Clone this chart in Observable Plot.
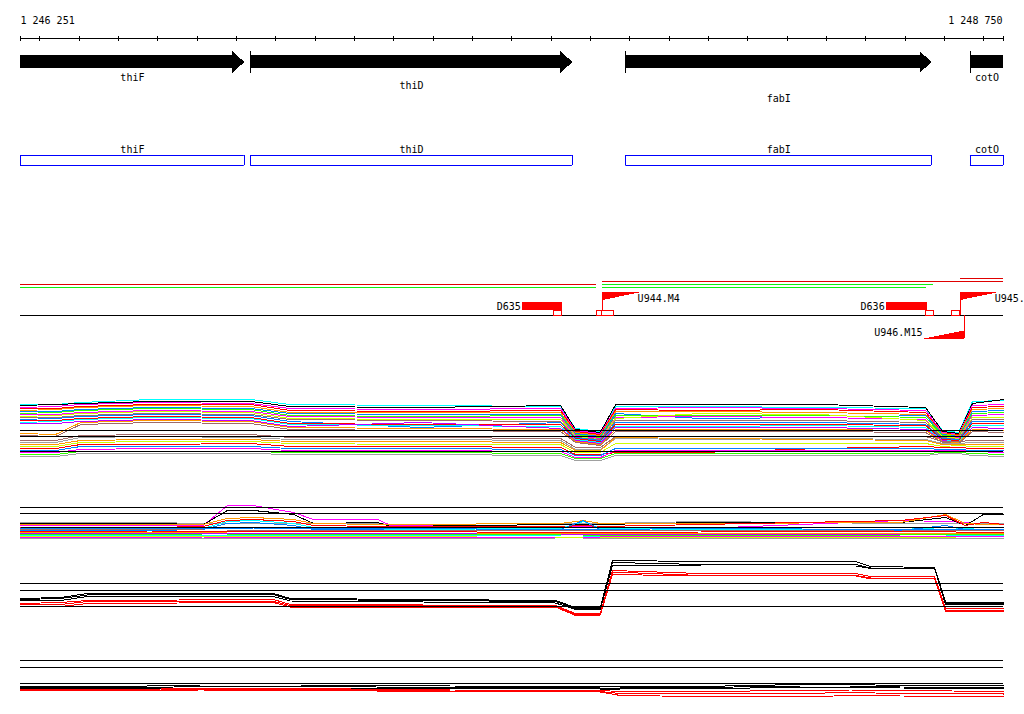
<!DOCTYPE html>
<html><head><meta charset="utf-8">
<script src="https://cdn.jsdelivr.net/npm/d3@7"></script>
<script src="https://cdn.jsdelivr.net/npm/@observablehq/plot@0.6"></script>
<style>
html,body{margin:0;padding:0;background:#fff;}
#chart{position:relative;width:1024px;height:714px;overflow:hidden;background:#fff;}
#chart svg{position:absolute;left:0;}
</style></head><body><div id="chart"></div>
<script>
// ---------------- DATA ----------------
const RANGE = [1246251, 1248750];
const rulerTicks = [1246251,1246300,1246400,1246500,1246600,1246700,1246800,1246900,1247000,1247100,1247200,1247300,1247400,1247500,1247600,1247700,1247800,1247900,1248000,1248100,1248200,1248300,1248400,1248500,1248600,1248700,1248750];
const rulerLabels = ["1 246 251", "1 248 750"];

const geneNames  = ["thiF", "thiD", "fabI", "cotO"];
const geneStarts = [1246150, 1246836, 1247790, 1248666];
const geneEnds   = [1246820, 1247654, 1248567, 1248990];

// transcript segments (track of red / green lines)
const segStarts = [1246100, 1246100, 1247730, 1247730, 1247730, 1248640];
const segEnds   = [1247716, 1247716, 1248900, 1248572, 1248554, 1248900];
const segKinds  = ["red", "green", "red", "green", "green", "red"];
const segLanes  = [1, 0, 2, 1, 0, 3];

// breakpoint features
const featNames  = ["D635", "U944.M4", "D636", "U945.", "U946.M15"];
const featKinds  = ["D", "U", "D", "U", "U"];
const featStrand = ["+", "+", "+", "+", "-"];
const featPos    = [1247628, 1247730, 1248556, 1248640, 1248650];
const featExtent = [1247528, 1247830, 1248453, 1248738, 1248549];
const boxStarts  = [1247607, 1247716, 1247730, 1248554, 1248619];
const boxEnds    = [1247628, 1247730, 1247759, 1248574, 1248640];

// profile track D (many probes)
const anchorsD = [1246251,1246340,1246404,1246582,1246836,1246937,1247268,1247624,1247662,1247725,1247764,1247980,1248285,1248552,1248595,1248636,1248671,1248750];
const seriesD = [
  [66,66,68,71,71,66,65,64,42,39,64,64,63,62,40,38,69,70],
  [65,66,67,69,69,64,63,65,41,38,66,66,66,63,39,37,67,71],
  [63,64,66,68,67,62,61,62,40,37,62,63,62,60,38,36,65,66],
  [62,62,64,66,66,60,59,60,39,36,61,60,61,58,37,36,63,64],
  [60,61,63,65,64,58,58,58,38,35,59,59,58,56,37,35,61,62],
  [59,59,61,63,62,57,56,56,37,34,57,52,53,55,36,34,59,60],
  [57,58,60,62,61,55,54,55,36,33,55,55,55,53,35,34,57,58],
  [56,56,58,60,59,54,53,53,35,32,53,54,53,51,34,33,55,56],
  [54,55,57,59,58,52,51,51,34,31,52,57,56,50,34,32,53,53],
  [53,53,55,57,56,51,50,49,33,31,50,50,50,48,33,31,51,51],
  [51,52,54,56,55,49,43,48,33,30,48,48,48,46,32,31,49,49],
  [50,50,52,54,53,47,46,46,32,29,46,46,46,45,31,30,47,47],
  [48,49,51,53,52,46,45,44,31,28,44,44,45,43,30,29,45,45],
  [47,47,49,51,50,44,48,42,30,27,43,43,43,41,30,28,43,42],
  [37,36,48,50,49,43,42,41,29,26,41,41,41,40,29,28,41,40],
  [35,34,46,48,47,41,40,39,28,25,39,39,39,38,28,27,39,38],
  [30,30,35,36,36,33,33,32,23,23,34,34,34,34,29,29,30,30],
  [28,28,33,34,33,31,31,30,21,21,32,31,32,31,27,27,28,28],
  [26,26,30,31,31,29,29,28,20,20,33,32,31,30,26,26,26,26],
  [24,24,28,29,29,27,26,26,18,18,27,27,27,27,24,25,24,24],
  [22,22,26,26,27,24,24,23,16,16,18,18,22,24,23,23,22,22],
  [20,20,24,24,24,22,22,21,15,15,22,22,22,22,21,21,20,20],
  [18,18,21,22,22,20,20,19,13,13,20,20,20,20,20,20,19,18],
  [16,16,19,19,19,18,18,17,12,12,17,17,17,17,18,18,17,16],
  [14,14,17,17,17,16,16,15,10,10,15,15,15,15,17,17,15,14]
];
const colorsD = ["#00ffff","#000000","#ff00ff","#ff0000","#ff9900","#0080ff","#33ff00","#ff00ff","#ccff00","#a06a6a","#0080ff","#ff0000","#00ffff","#c000ff","#ff9900","#a06a6a",
                 "#a06a6a","#a0a0a0","#ff9900","#ccff00","#ff0000","#0080ff","#ff00ff","#33ff00","#a0a0a0"];
const thresholdsD = [40, 34, 19];

// profile track E
const anchorsE = [1246251,1246582,1246716,1246777,1246843,1246945,1246996,1247159,1247192,1247624,1247682,1247725,1247980,1248488,1248603,1248653,1248699,1248750];
const seriesE = [
  [23,23,22,22,22,22,22,22,21,22,22,22,24,22,22,22,22,22],
  [20,20,20,40,40,33,26,26,20,19,19,19,17,25,24,23,21,21],
  [22,22,21,35,35,31,22,23,19,21,21,21,23,23,28,20,31,31],
  [21,21,21,27,28,26,22,21,21,22,25,22,22,23,31,22,21,21],
  [18,18,19,25,26,24,20,19,19,19,20,19,21,25,30,20,23,21],
  [16,16,17,24,25,22,18,17,16,17,24,17,16,16,18,17,16,16],
  [15,15,16,22,23,20,16,16,15,16,25,16,15,15,20,16,15,15],
  [18.5,18.5,18.5,18.5,18.5,18,18,18,18,18,18,18,18,18,18,18,18,18],
  [17,17,17,17,17.5,17,17,17,17,16,16,16,17,16,16,16,16,16],
  [16,16,15.5,15.5,15.5,15,15,15,15,15,15,15,15,15.5,15,15,15,15],
  [14,14.5,14,14,14,13.5,14,14,14,13,13,13,13.5,14,14,13,13,13],
  [13,13,13,12.5,12.5,12.5,12,12,12,12,12,12,12,12.5,12.5,12.5,12.5,12.5],
  [12,12,12,12,12,12,12,12,12,11,11,11,11,11,11,11,11,11],
  [11,11,11.5,11.5,11,11,11,11,11,10.5,10.5,10.5,10,10.5,11,11,11,11],
  [10,10,10,10,10,10,10,10,10,9.5,9.5,9.5,9.5,9.5,9.5,10,10,10],
  [9,9,9,9,9,9,9,9,9,8,8,8,8,8,8,7,7,7],
  [8,8,8.5,8,8,8,8,8,8,8.5,8.5,8.5,9,9,9,9,9,9],
  [7,7,7,7,7,7,7,7,7,7.5,7.5,7.5,7.5,7.5,7.5,7.5,7.5,7.5]
];
const colorsE = ["#a0a0a0","#ff00ff","#000000","#ff9900","#ff0000","#00ffff","#0080ff","#000000","#0080ff","#a06a6a","#ff0000","#ff9900","#c000ff","#33ff00","#00ffff","#ccff00","#ff00ff","#a0a0a0"];
const thresholdsE = [38, 32];

// profile track F
const anchorsF = [1246251,1246353,1246421,1246894,1246937,1247611,1247662,1247725,1247756,1247980,1248374,1248412,1248575,1248603,1248750];
const seriesF = [
  [22,23,27,27,22,20,13,13,60,59,59,54,53,18,18],
  [21,22,25.5,26,21,19,12,12,58,56,56,52.5,52,17,16.5],
  [20,20,24,24,19.5,17.5,11,11,55,54.5,54.5,52,52,15.5,16],
  [17,18,20,21,16,15,7,7,50,47,47,44,43.5,12,12],
  [15.5,16,19,19,15,14,6,6,48.5,45,45,42.5,42.5,10.5,10.5],
  [14,14,17,18,13.5,13.5,5,5.5,46,44.5,44.5,41.5,42,9,9]
];
const colorsF = ["#000000","#000000","#000000","#ff0000","#ff0000","#ff0000"];
const thresholdsF = [37, 30, 14];

// profile track G
const anchorsG = [1246251,1246505,1246709,1246963,1247344,1247725,1247776,1247980,1248234,1248361,1248488,1248750];
const seriesG = [
  [14,14,15.5,15.5,14.5,14,14,14,16,16,15,15],
  [13,12.5,14,14,13,12.5,12.5,13,14.5,14.5,13.5,13],
  [12,12,12.5,12.5,12,11.5,11.5,12,13,13,12.5,12],
  [11,11,12,12,10.5,10,9,9,10,10.5,10,9],
  [10.5,10,11,11,9.5,9,7,6.5,7,8,7,6.5],
  [10,10,10.5,10,9,8.5,5,4,3.5,5,4.5,4]
];
const colorsG = ["#000000","#000000","#000000","#ff0000","#ff0000","#ff0000"];
const thresholdsG = [40, 33, 17];

// ---------------- LAYOUT / DRAWING ----------------
const W = 1024, ML = 20, MR = 21;
const PXW = W - ML - MR;
const bpPerPx = (RANGE[1] - RANGE[0]) / PXW;
const FONT = "'DejaVu Sans Mono', monospace";
const chart = document.getElementById("chart");

function makePlot(top, h, ydom, yrange, marks) {
  const svg = Plot.plot({
    width: W, height: h, marginLeft: ML, marginRight: MR, marginTop: 0, marginBottom: 0,
    x: {domain: RANGE, axis: null},
    y: {domain: ydom, range: yrange, axis: null},
    color: {type: "identity"},
    style: {fontFamily: FONT, fontSize: "10px", background: "transparent", overflow: "hidden"},
    marks
  });
  svg.style.top = top + "px";
  chart.appendChild(svg);
}

const clampX = v => Math.max(RANGE[0], Math.min(RANGE[1], v));
const genes = geneNames.map((name, i) => ({
  name, start: geneStarts[i], end: geneEnds[i],
  vs: clampX(geneStarts[i]), ve: clampX(geneEnds[i])
}));
const geneLabelY = [77, 85, 98.5, 77];

// arrow polygons
const headBp = 12 * bpPerPx;
const arrowPts = [];
genes.forEach(g => {
  const h = g.end - headBp;
  [[g.start,54.5],[h,54.5],[h,50.5],[g.end,61.5],[h,72.5],[h,67.5],[g.start,67.5]]
    .forEach(([x, y]) => arrowPts.push({g: g.name, x, y}));
});

const segs = segStarts.map((s, i) => ({s, e: segEnds[i], k: segKinds[i], lane: segLanes[i]}));
const segColor = {red: "#e00000", green: "#11ee11"};

const feats = featNames.map((name, i) => ({name, kind: featKinds[i], strand: featStrand[i], pos: featPos[i], ext: featExtent[i]}));
const dFeats = feats.filter(f => f.kind === "D");
const uFeats = feats.filter(f => f.kind === "U");
const triPts = [];
uFeats.forEach(f => {
  const pts = f.strand === "+"
    ? [[f.pos, 291.5], [f.ext, 291.5], [f.pos, 299.5]]
    : [[f.pos, 338], [f.ext, 338], [f.pos, 330]];
  pts.forEach(([x, y]) => triPts.push({n: f.name, x, y}));
});
const boxes = boxStarts.map((s, i) => ({s, e: boxEnds[i]}));

const CR = "crispEdges";
const BLUE = "#0000ff";
makePlot(0, 350, [0, 350], [0, 350], [
  // ruler
  Plot.ruleY([38], {y: d => d, x1: () => RANGE[0], x2: () => RANGE[1], stroke: "black", shapeRendering: CR}),
  Plot.ruleX(rulerTicks, {x: d => d, y1: () => 35.5, y2: () => 40.5, stroke: "black", shapeRendering: CR}),
  Plot.text([rulerLabels[0]], {x: () => RANGE[0], y: () => 20.5, text: d => d, textAnchor: "start"}),
  Plot.text([rulerLabels[1]], {x: () => RANGE[1], y: () => 20.5, text: d => d, textAnchor: "end", dx: -1}),
  // gene arrows
  Plot.line(arrowPts, {x: "x", y: "y", z: "g", fill: "black", stroke: "none", clip: true, shapeRendering: CR}),
  Plot.ruleX(genes.filter(g => g.start >= RANGE[0]), {x: "start", y1: () => 50.5, y2: () => 72.5, stroke: "black", shapeRendering: CR}),
  Plot.text(genes, {x: g => (g.vs + g.ve) / 2, y: (g, i) => geneLabelY[i], text: "name"}),
  // gene boxes (outlined in blue)
  Plot.ruleY(genes, {y: () => 155, x1: "vs", x2: "ve", stroke: BLUE, strokeWidth: 1}),
  Plot.ruleY(genes, {y: () => 165, x1: "vs", x2: "ve", stroke: BLUE, strokeWidth: 1}),
  Plot.ruleX(genes, {x: "vs", y1: () => 155, y2: () => 165, stroke: BLUE, strokeWidth: 1, shapeRendering: CR}),
  Plot.ruleX(genes, {x: "ve", y1: () => 155, y2: () => 165, stroke: BLUE, strokeWidth: 1, shapeRendering: CR}),
  Plot.text(genes, {x: g => (g.vs + g.ve) / 2, y: () => 149, text: "name"}),
  // segments
  Plot.ruleY(segs, {y: d => 287 - d.lane * 3, x1: "s", x2: "e", stroke: d => segColor[d.k], clip: true, shapeRendering: CR}),
  // baseline
  Plot.ruleY([315], {y: d => d, x1: () => RANGE[0], x2: () => RANGE[1], stroke: "black", shapeRendering: CR}),
  // D features
  Plot.rect(dFeats, {x1: "ext", x2: "pos", y1: () => 301.5, y2: () => 310, fill: "#ff0000", shapeRendering: CR}),
  Plot.text(dFeats, {x: "ext", y: () => 306, text: "name", textAnchor: "end", dx: -2}),
  // U features
  Plot.line(triPts, {x: "x", y: "y", z: "n", fill: "#ff0000", stroke: "none", shapeRendering: CR}),
  Plot.ruleX(uFeats, {x: "pos", y1: f => f.strand === "+" ? 291.5 : 315, y2: f => f.strand === "+" ? 315 : 338, stroke: "#ff0000", shapeRendering: CR}),
  Plot.text(uFeats.filter(f => f.strand === "+"), {x: "ext", y: () => 298, text: "name", textAnchor: "start", dx: -4}),
  Plot.text(uFeats.filter(f => f.strand === "-"), {x: "ext", y: () => 332, text: "name", textAnchor: "end", dx: -2}),
  // interval boxes
  Plot.rect(boxes, {x1: "s", x2: "e", y1: () => 310.5, y2: () => 315, fill: "white", stroke: "#ff0000", shapeRendering: CR})
]);

function table(anchors, rows, colors) {
  const out = [];
  rows.forEach((r, s) => r.forEach((v, i) => out.push({x: anchors[i], v, s, c: colors[s]})));
  return out;
}
function profile(top, h, anchors, rows, colors, thresholds) {
  makePlot(top, h, [0, h], [h, 0], [
    Plot.line(table(anchors, rows, colors), {x: "x", y: "v", z: "s", stroke: "c", strokeWidth: 1, shapeRendering: CR}),
    Plot.ruleY(thresholds, {stroke: "black", shapeRendering: CR})
  ]);
}
profile(385, 85, anchorsD, seriesD, colorsD, thresholdsD);
profile(500, 45, anchorsE, seriesE, colorsE, thresholdsE);
profile(550, 70, anchorsF, seriesF, colorsF, thresholdsF);
profile(655, 45, anchorsG, seriesG, colorsG, thresholdsG);
</script></body></html>
